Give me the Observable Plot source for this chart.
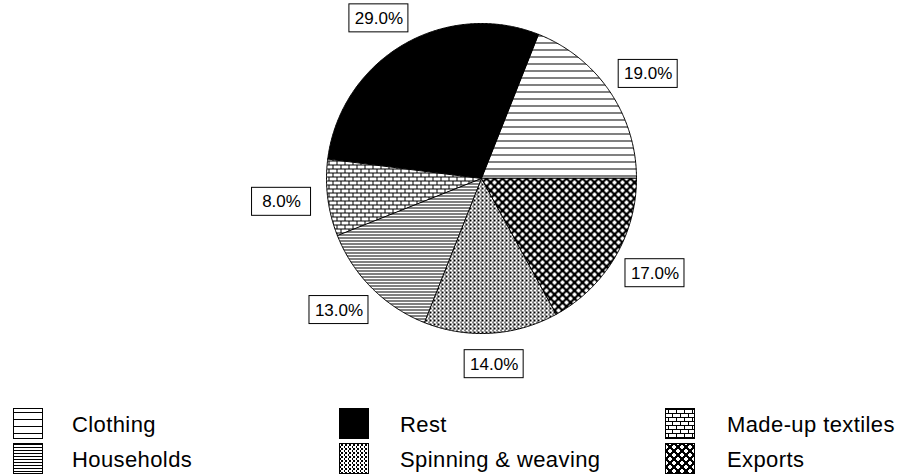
<!DOCTYPE html>
<html>
<head>
<meta charset="utf-8">
<script src="https://cdn.jsdelivr.net/npm/d3@7"></script>
<script src="https://cdn.jsdelivr.net/npm/@observablehq/plot@0.6"></script>
<style>
  body { margin: 0; background: #fff; font-family: "Liberation Sans", Arial, Helvetica, sans-serif; }
  #chart { position: relative; width: 901px; height: 476px; overflow: hidden; }
  #chart svg.plot { position: absolute; left: 0; top: 0; }
  #chart svg.legend { position: absolute; left: 0; top: 405px; }
</style>
</head>
<body>
<svg width="0" height="0" style="position:absolute">
  <defs>
    <pattern id="p-clothing" patternUnits="userSpaceOnUse" width="7" height="7">
      <rect width="7" height="7" fill="#fff"/><rect y="0" width="7" height="1" fill="#000"/>
    </pattern>
    <pattern id="p-households" patternUnits="userSpaceOnUse" width="3" height="3">
      <rect width="3" height="3" fill="#fff"/><rect y="0" width="3" height="1" fill="#000"/>
    </pattern>
    <pattern id="p-madeup" patternUnits="userSpaceOnUse" width="8" height="8">
      <rect width="8" height="8" fill="#fff"/>
      <rect x="0" y="0" width="8" height="1" fill="#000"/>
      <rect x="0" y="4" width="8" height="1" fill="#000"/>
      <rect x="0" y="1" width="1" height="3" fill="#000"/>
      <rect x="4" y="5" width="1" height="3" fill="#000"/>
    </pattern>
    <pattern id="p-spinning" patternUnits="userSpaceOnUse" width="4" height="4">
      <rect width="4" height="4" fill="#fff"/>
      <rect x="1" y="0" width="2" height="1" fill="#000"/>
      <rect x="1" y="3" width="2" height="1" fill="#000"/>
      <rect x="0" y="1" width="1" height="2" fill="#000"/>
    </pattern>
    <pattern id="p-exports" patternUnits="userSpaceOnUse" width="8" height="8">
      <rect width="8" height="8" fill="#000"/>
      <rect x="1" y="0" width="2" height="4" fill="#fff"/>
      <rect x="0" y="1" width="4" height="2" fill="#fff"/>
      <rect x="5" y="4" width="2" height="4" fill="#fff"/>
      <rect x="4" y="5" width="4" height="2" fill="#fff"/>
    </pattern>
  </defs>
</svg>
<div id="chart"></div>
<script>
// Shares of each sector (percent), listed counter-clockwise from 3 o'clock
const categories = ["Clothing", "Rest", "Made-up textiles", "Households", "Spinning & weaving", "Exports"];
const shares = [19.0, 29.0, 8.0, 13.0, 14.0, 17.0];
const fills = ["url(#p-clothing)", "#000", "url(#p-madeup)", "url(#p-households)", "url(#p-spinning)", "url(#p-exports)"];

// Layout (pixels)
const W = 901, H = 405, cx = 481, cy = 178, R = 155;
const boxW = 59, boxH = 28, labelGap = 1.11;

const rows = categories.map((name, i) => ({name, share: shares[i]}));

// Counter-clockwise from east; angles measured clockwise from north (d3 convention)
const arcs = d3.pie()
  .sort(null)
  .value(d => d.share)
  .startAngle(Math.PI / 2)
  .endAngle(Math.PI / 2 - 2 * Math.PI)(rows);

// Outline of every slice in radius units (y up)
const slicePts = [];
for (const a of arcs) {
  const name = a.data.name;
  slicePts.push({name, x: 0, y: 0});
  const n = Math.max(2, Math.ceil(Math.abs(a.endAngle - a.startAngle) / (Math.PI / 360)));
  for (let k = 0; k <= n; ++k) {
    const t = a.startAngle + (a.endAngle - a.startAngle) * k / n;
    slicePts.push({name, x: Math.sin(t), y: Math.cos(t)});
  }
}

// Boxed percentage labels just outside each slice
const labels = arcs.map(a => {
  const m = (a.startAngle + a.endAngle) / 2;
  const s = Math.sin(m), c = Math.cos(m);
  const lx = labelGap * s + (boxW / 2 / R) * s;
  const ly = labelGap * c + (boxH / 2 / R) * c;
  return {
    text: a.data.share.toFixed(1) + "%",
    x: lx, y: ly,
    x1: lx - boxW / 2 / R, x2: lx + boxW / 2 / R,
    y1: ly - boxH / 2 / R, y2: ly + boxH / 2 / R
  };
});

const plot = Plot.plot({
  width: W,
  height: H,
  margin: 0,
  style: {background: "transparent", fontFamily: "'Liberation Sans', Arial, Helvetica, sans-serif"},
  x: {domain: [-cx / R, (W - cx) / R], range: [0, W], axis: null},
  y: {domain: [-(H - cy) / R, cy / R], range: [H, 0], axis: null},
  color: {type: "ordinal", domain: categories, range: fills},
  marks: [
    Plot.line(slicePts, {
      x: "x", y: "y", z: "name", fill: "name",
      stroke: "#000", strokeWidth: 1, strokeLinejoin: "miter",
      curve: "linear-closed"
    }),
    Plot.rect(labels, {x1: "x1", x2: "x2", y1: "y1", y2: "y2", fill: "#fff", stroke: "#000", strokeWidth: 1}),
    Plot.text(labels, {x: "x", y: "y", text: "text", fontSize: 17, fill: "#000", textAnchor: "middle", lineAnchor: "middle"})
  ]
});
plot.classList.add("plot");

const chart = document.getElementById("chart");
chart.appendChild(plot);

// Legend: three columns, filled row by row
const swLeft = [13, 339, 665], labLeft = [72, 400, 727];
const swTop = [3, 38], baseY = [27, 62];
const legend = d3.create("svg").attr("class", "legend")
  .attr("width", W).attr("height", 71)
  .style("font-family", "'Liberation Sans', Arial, Helvetica, sans-serif");
categories.forEach((name, i) => {
  const col = i % 3, row = Math.floor(i / 3);
  legend.append("rect")
    .attr("x", swLeft[col] + 0.5).attr("y", swTop[row] + 0.5)
    .attr("width", 29).attr("height", 30)
    .attr("fill", fills[i]).attr("stroke", "#000").attr("stroke-width", 1);
  legend.append("text")
    .attr("x", labLeft[col]).attr("y", baseY[row])
    .attr("font-size", 22).attr("letter-spacing", 0.4)
    .attr("fill", "#000")
    .text(name);
});
chart.appendChild(legend.node());
</script>
</body>
</html>
